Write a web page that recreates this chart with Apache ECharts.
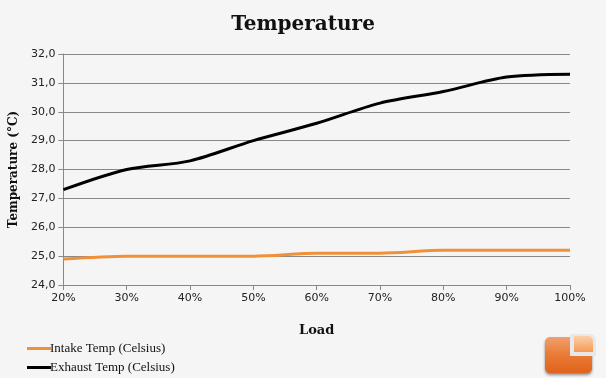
<!DOCTYPE html>
<html><head><meta charset="utf-8">
<script src="https://cdn.jsdelivr.net/npm/echarts@6/dist/echarts.min.js"></script>
<style>html,body{margin:0;padding:0;background:#f5f5f5;}#c{width:606px;height:378px;}</style>
</head><body><div id="c"></div>
<script>
const categories = ['20%','30%','40%','50%','60%','70%','80%','90%','100%'];
const intakeTemp = [24.9, 25.0, 25.0, 25.0, 25.1, 25.1, 25.2, 25.2, 25.2];
const exhaustTemp = [27.3, 28.0, 28.3, 29.0, 29.6, 30.3, 30.7, 31.2, 31.3];
const seriesNames = ['Intake Temp (Celsius)', 'Exhaust Temp (Celsius)'];

const legendBase = {
  left: 22, icon: 'rect', itemWidth: 24, itemHeight: 3, itemGap: 0,
  textStyle: { fontFamily: 'Liberation Serif', fontSize: 13, color: '#111', padding: [0, 0, 0, -6] }
};

const chart = echarts.init(document.getElementById('c'));
chart.setOption({
  backgroundColor: '#f5f5f5',
  animation: false,
  title: {
    text: 'Temperature', left: 'center', top: 10,
    textStyle: { fontFamily: 'DejaVu Serif', fontWeight: 'bold', fontSize: 20, color: '#111' }
  },
  legend: [
    Object.assign({}, legendBase, { top: 337, data: [seriesNames[0]] }),
    Object.assign({}, legendBase, { top: 356, data: [seriesNames[1]] })
  ],
  grid: { left: 63, right: 36, top: 54, bottom: 93, containLabel: false },
  xAxis: {
    type: 'category', data: categories, boundaryGap: false,
    name: 'Load', nameLocation: 'middle', nameGap: 39,
    nameTextStyle: { fontFamily: 'DejaVu Serif', fontWeight: 'bold', fontSize: 13, color: '#111' },
    axisLine: { lineStyle: { color: '#888', width: 1 } },
    axisTick: { alignWithLabel: true, length: 5, lineStyle: { color: '#888' } },
    axisLabel: { fontFamily: 'DejaVu Sans', fontSize: 11, color: '#222', margin: 8 }
  },
  yAxis: {
    type: 'value', min: 24, max: 32, interval: 1,
    name: 'Temperature (°C)', nameLocation: 'middle', nameGap: 42, nameRotate: 90,
    nameTextStyle: { fontFamily: 'DejaVu Serif', fontWeight: 'bold', fontSize: 12, color: '#111' },
    axisLine: { show: true, lineStyle: { color: '#888', width: 1 } },
    axisTick: { show: true, length: 5, lineStyle: { color: '#888' } },
    axisLabel: { fontFamily: 'DejaVu Sans', fontSize: 11, color: '#222', margin: 8,
      formatter: v => v.toFixed(1).replace('.', ',') },
    splitLine: { lineStyle: { color: '#888', width: 1 } }
  },
  series: [
    { name: seriesNames[0], type: 'line', data: intakeTemp, smooth: 0.3, showSymbol: false,
      lineStyle: { color: '#f0913a', width: 3 }, itemStyle: { color: '#f0913a' } },
    { name: seriesNames[1], type: 'line', data: exhaustTemp, smooth: 0.3, showSymbol: false,
      lineStyle: { color: '#000', width: 3 }, itemStyle: { color: '#000' } }
  ],
  graphic: [
    { type: 'rect', shape: { x: 545, y: 337, width: 47, height: 36, r: 5 },
      style: { fill: { type: 'linear', x: 0, y: 0, x2: 0, y2: 1, colorStops: [{ offset: 0, color: '#f0a070' }, { offset: 0.5, color: '#ea7a35' }, { offset: 1, color: '#e0621c' }] },
      shadowBlur: 3, shadowColor: 'rgba(0,0,0,0.45)', shadowOffsetY: 2 } },
    { type: 'rect', shape: { x: 570, y: 334, width: 26, height: 22, r: [0, 6, 0, 0] },
      style: { fill: '#e8e8e8' } },
    { type: 'rect', shape: { x: 574, y: 336, width: 19, height: 16, r: [0, 5, 0, 0] },
      style: { fill: { type: 'linear', x: 0, y: 0, x2: 0, y2: 1, colorStops: [{ offset: 0, color: '#fcd0a8' }, { offset: 1, color: '#f39a55' }] } } }
  ]
});
</script></body></html>
